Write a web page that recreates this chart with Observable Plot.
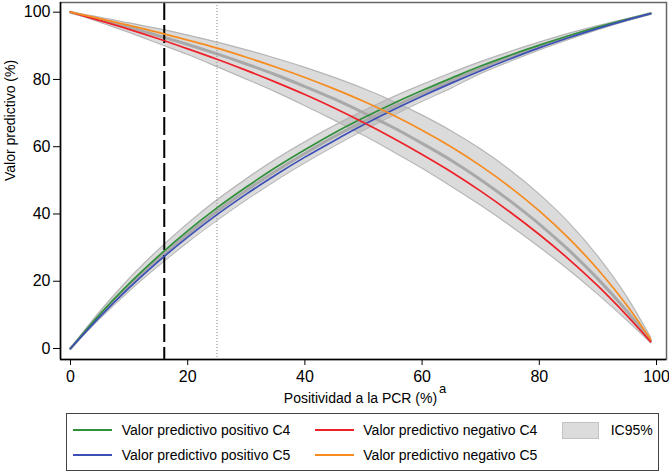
<!DOCTYPE html>
<html>
<head>
<meta charset="utf-8">
<script src="https://cdn.jsdelivr.net/npm/d3@7"></script>
<script src="https://cdn.jsdelivr.net/npm/@observablehq/plot@0.6"></script>
<style>
  html, body { margin: 0; padding: 0; background: #fff; }
  #wrap { position: relative; width: 669px; height: 472px; font-family: "Liberation Sans", Arial, Helvetica, sans-serif; }
  #legend { position: absolute; left: 66px; top: 413px; width: 593px; height: 58px; border: 1px solid #444; box-sizing: border-box; font-size: 14px; color: #000; }
  #legend .sw { position: absolute; height: 2px; width: 39px; }
  #legend .tx { position: absolute; line-height: 16px; white-space: nowrap; }
  #legend .box { position: absolute; width: 37px; height: 17px; background: #dcdcdc; border: 1px solid #c2c2c2; box-sizing: border-box; }
</style>
</head>
<body>
<div id="wrap">
  <div id="chart"></div>
  <div id="legend"></div>
</div>
<script>
// Prevalence (Positividad a la PCR, %)
const prevalence = [0,5,10,15,20,25,30,35,40,45,50,55,60,65,70,75,80,85,90,95,99];
// Valor predictivo positivo
const vppC4     = [0,10.2,19.3,27.5,35.0,41.8,48.0,53.8,59.1,64.1,68.6,72.8,76.7,80.4,84.0,87.2,90.2,93.0,95.6,97.9,99.6];
const vppC5     = [0,9.4,18.0,25.9,33.1,39.8,45.9,51.6,56.9,61.8,66.5,70.9,75.0,78.9,82.6,86.1,89.4,92.4,95.2,97.7,99.6];
const vppMid    = [0,9.8,18.6,26.7,34.0,40.8,47.0,52.7,58.0,63.0,67.5,71.8,75.8,79.6,83.3,86.6,89.8,92.7,95.4,97.8,99.6];
const vppIcLow  = [0,8.9,17.1,24.6,31.6,38.1,44.2,49.9,55.2,60.2,64.9,69.3,73.5,77.5,81.8,85.4,88.8,91.9,94.8,97.5,99.5];
const vppIcHigh = [0,11.0,20.8,29.4,37.2,44.2,50.5,56.3,61.5,66.3,70.7,74.8,78.5,82.0,85.3,88.3,91.1,93.7,96.0,98.1,99.7];
// Valor predictivo negativo
const vpnC4     = [100,97.5,94.9,92.1,89.1,86.0,82.7,79.2,75.5,71.5,67.2,62.6,57.7,52.5,46.8,40.6,33.9,26.6,18.6,9.7,2.0];
const vpnC5     = [100,98.1,96.1,94.0,91.7,89.3,86.6,83.7,80.6,77.2,73.5,69.4,64.9,59.9,54.3,48.0,40.9,32.8,23.5,12.7,2.7];
const vpnMid    = [100,97.8,95.5,93.0,90.4,87.6,84.6,81.4,77.9,74.2,70.1,65.8,61.0,55.9,50.2,43.9,37.0,29.3,20.7,11.0,2.3];
const vpnIcLow  = [100,97.0,94.0,90.7,87.4,83.8,80.1,76.3,72.2,67.9,63.4,58.6,53.6,48.2,42.6,36.6,30.2,23.4,16.1,8.3,1.7];
const vpnIcHigh = [100,98.5,96.8,95.1,93.2,91.1,88.8,86.3,83.6,80.6,77.3,73.6,69.4,64.7,59.3,53.1,45.9,37.5,27.4,15.2,3.3];

const cutoffDashed = [16];
const cutoffDotted = [25];
const xTicks = [0, 20, 40, 60, 80, 100];
const yTicks = [0, 20, 40, 60, 80, 100];

const xTitle = "Positividad a la PCR (%)";
const xTitleSup = "a";
const yTitle = "Valor predictivo (%)";

const seriesNames  = ["Valor predictivo positivo C4", "Valor predictivo positivo C5", "Valor predictivo negativo C4", "Valor predictivo negativo C5"];
const seriesKeys   = ["vppC4", "vppC5", "vpnC4", "vpnC5"];
const seriesColors = ["#2f8f3a", "#3c4fb6", "#ee2028", "#f68c1f"];
const bandLabel = "IC95%";

const rows = prevalence.map((x, i) => ({
  x,
  vppC4: vppC4[i], vppC5: vppC5[i], vppMid: vppMid[i], vppIcLow: vppIcLow[i], vppIcHigh: vppIcHigh[i],
  vpnC4: vpnC4[i], vpnC5: vpnC5[i], vpnMid: vpnMid[i], vpnIcLow: vpnIcLow[i], vpnIcHigh: vpnIcHigh[i]
}));

const xDomain = [-1.706, 101.706];
const yDomain = [-3.27, 102.88];
const curve = "monotone-x";
const bandFill = "#a4a4a4";
const bandEdge = "#b6b6b6";

const chart = Plot.plot({
  width: 669,
  height: 410,
  marginLeft: 60,
  marginRight: 3,
  marginTop: 2,
  marginBottom: 51,
  x: { domain: xDomain },
  y: { domain: yDomain },
  style: { fontFamily: "'Liberation Sans', Arial, Helvetica, sans-serif", fontSize: "16px", color: "#000", background: "#fff" },
  marks: [
    Plot.areaY(rows, { x: "x", y1: "vppIcLow", y2: "vppIcHigh", fill: bandFill, fillOpacity: 0.4, curve }),
    Plot.areaY(rows, { x: "x", y1: "vpnIcLow", y2: "vpnIcHigh", fill: bandFill, fillOpacity: 0.4, curve }),
    ...["vppIcLow", "vppIcHigh", "vpnIcLow", "vpnIcHigh"].map(k =>
      Plot.lineY(rows, { x: "x", y: k, stroke: bandEdge, strokeWidth: 1.2, curve })),
    Plot.lineY(rows, { x: "x", y: "vppMid", stroke: "#a9a9a9", strokeWidth: 3, curve }),
    Plot.lineY(rows, { x: "x", y: "vpnMid", stroke: "#a9a9a9", strokeWidth: 3, curve }),
    Plot.ruleX(cutoffDashed, { stroke: "#000", strokeWidth: 2, strokeDasharray: "18,5" }),
    Plot.ruleX(cutoffDotted, { stroke: "#888", strokeWidth: 1, strokeDasharray: "1,2" }),
    ...seriesKeys.map((k, i) =>
      Plot.lineY(rows, { x: "x", y: k, stroke: seriesColors[i], strokeWidth: 1.7, curve })),
    Plot.frame({ stroke: "#666", strokeWidth: 1.5 }),
    Plot.ruleX([xDomain[0]], { stroke: "#000", strokeWidth: 1.5 }),
    Plot.ruleY([yDomain[0]], { stroke: "#000", strokeWidth: 1.5 }),
    Plot.axisX({ ticks: xTicks, tickSize: 6, tickPadding: 5, fontSize: 16, label: null, stroke: "#000" }),
    Plot.axisY({ ticks: yTicks, tickSize: 7, tickPadding: 3, fontSize: 16, label: null, stroke: "#000" }),
    Plot.text([xTitle], { frameAnchor: "bottom", text: d => d, dx: -3, dy: 43, lineAnchor: "bottom", fontSize: 14 }),
    Plot.text([xTitleSup], { frameAnchor: "bottom", text: d => d, dx: 79, dy: 33, lineAnchor: "bottom", fontSize: 13 }),
    Plot.text([yTitle], { frameAnchor: "left", text: d => d, rotate: -90, dx: -49.5, fontSize: 14 })
  ]
});
document.getElementById("chart").appendChild(chart);

// Legend (HTML, below the SVG)
const legend = document.getElementById("legend");
const colSample = [6, 248];
const colText = [54.7, 296.3];
const rowCenter = [15.7, 40.7];
seriesNames.forEach((name, i) => {
  const col = Math.floor(i / 2), row = i % 2;
  const sw = document.createElement("div");
  sw.className = "sw";
  sw.style.left = colSample[col] + "px";
  sw.style.top = (rowCenter[row] - 1) + "px";
  sw.style.background = seriesColors[i];
  legend.appendChild(sw);
  const tx = document.createElement("div");
  tx.className = "tx";
  tx.style.left = colText[col] + "px";
  tx.style.top = (rowCenter[row] - 8) + "px";
  tx.textContent = name;
  legend.appendChild(tx);
});
const bx = document.createElement("div");
bx.className = "box";
bx.style.left = "495px";
bx.style.top = "7.5px";
legend.appendChild(bx);
const btx = document.createElement("div");
btx.className = "tx";
btx.style.left = "543.7px";
btx.style.top = (rowCenter[0] - 8) + "px";
btx.textContent = bandLabel;
legend.appendChild(btx);
</script>
</body>
</html>
